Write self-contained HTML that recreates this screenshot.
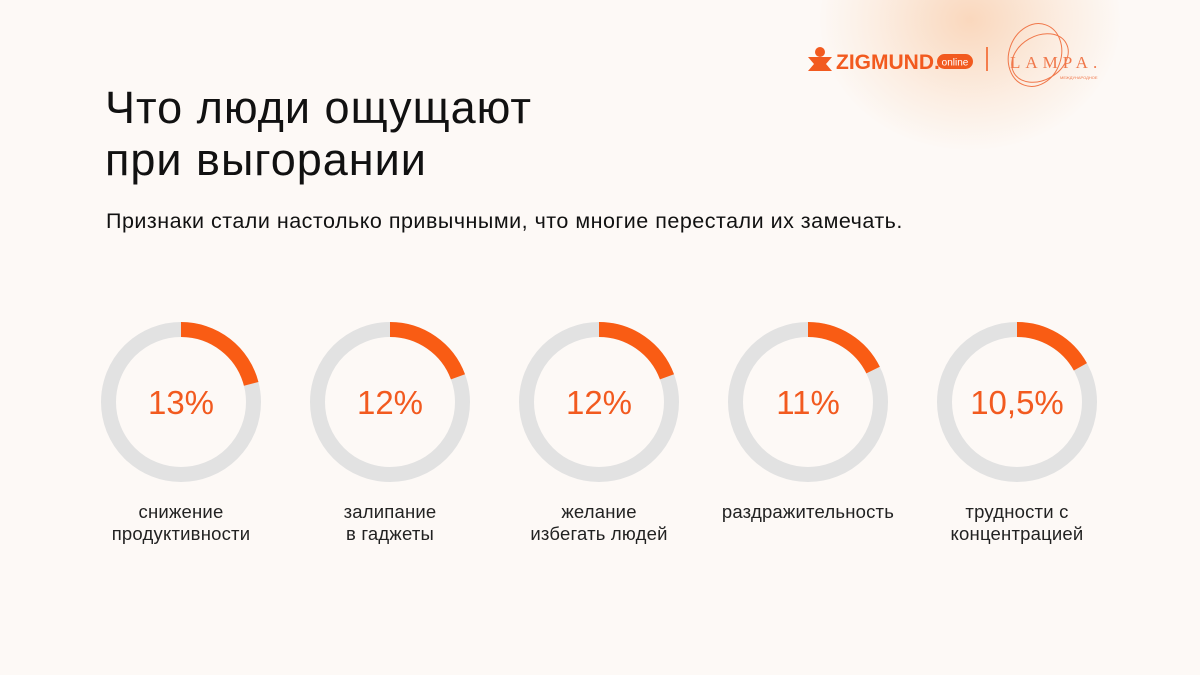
<!DOCTYPE html>
<html><head><meta charset="utf-8">
<style>
html,body{margin:0;padding:0}
body{width:1200px;height:675px;background:#fdf9f6;position:relative;overflow:hidden;font-family:"Liberation Sans","DejaVu Sans",sans-serif;color:#111}
.glow{position:absolute;left:820px;top:-110px;width:300px;height:260px;border-radius:50%;background:radial-gradient(ellipse at center,rgba(245,175,120,0.45) 0%,rgba(248,205,170,0.25) 45%,rgba(253,249,246,0) 72%)}
h1{position:absolute;left:105px;top:82px;margin:0;font-weight:400;font-size:45px;line-height:52px;letter-spacing:1px}
.sub{position:absolute;left:106px;top:209px;font-size:21.5px;letter-spacing:0.5px}
.lbl{position:absolute;width:220px;text-align:center;font-size:18.5px;line-height:22px;color:#222;letter-spacing:0.2px}
</style></head><body>
<div class="glow"></div>
<svg style="position:absolute;left:0;top:0" width="1200" height="120">
  <g>
    <circle cx="820" cy="52" r="5" fill="#f25a1f"/>
    <path d="M808 57 L832 57 L826 64 L832 71 L808 71 L814 64 Z" fill="#f25a1f"/>
    <text x="836" y="69" font-family="Liberation Sans,sans-serif" font-size="21" font-weight="700" fill="#f25a1f">ZIGMUND.</text>
    <rect x="937" y="54" width="36" height="15" rx="7.5" fill="#f25a1f"/>
    <text x="955" y="65.5" text-anchor="middle" font-family="Liberation Sans,sans-serif" font-size="10" fill="#fff">online</text>
  </g>
  <line x1="987" y1="47" x2="987" y2="71" stroke="#f25a1f" stroke-width="1.5"/>
  <g fill="none" stroke="#f0774a" stroke-width="1">
    <ellipse cx="1035" cy="55" rx="26" ry="32" transform="rotate(20 1035 55)"/>
    <ellipse cx="1040" cy="58" rx="30" ry="22" transform="rotate(-30 1040 58)"/>
    <text x="1010" y="68" font-family="Liberation Serif,serif" font-size="17" fill="#f0774a" stroke="none" letter-spacing="5">LAMPA.</text>
    <text x="1060" y="79" font-size="4" fill="#f0774a" stroke="none">МЕЖДУНАРОДНОЕ</text>
  </g>
</svg>
<h1>Что люди ощущают<br>при выгорании</h1>
<div class="sub">Признаки стали настолько привычными, что многие перестали их замечать.</div>
<svg id="chart" style="position:absolute;left:0;top:0" width="1200" height="675"></svg>
<div id="labels"></div>
<script>
const categories=["снижение<br>продуктивности","залипание<br>в гаджеты","желание<br>избегать людей","раздражительность","трудности с<br>концентрацией"];
const values=[13,12,12,11,10.5];
const valueLabels=["13%","12%","12%","11%","10,5%"];
const NS="http://www.w3.org/2000/svg";
const svg=document.getElementById('chart');
const x0=181,dx=209,cy=402,r=72.5;
const arcScale=v=>v/62;
function cx(i){return x0+i*dx;}
values.forEach((v,i)=>{
  const c=cx(i);
  const bg=document.createElementNS(NS,'circle');
  bg.setAttribute('cx',c);bg.setAttribute('cy',cy);bg.setAttribute('r',r);
  bg.setAttribute('fill','none');bg.setAttribute('stroke','#e2e2e2');bg.setAttribute('stroke-width',15);
  
  
  svg.appendChild(bg);
  const a=arcScale(v)*2*Math.PI;
  const ex=c+r*Math.sin(a),ey=cy-r*Math.cos(a);
  const p=document.createElementNS(NS,'path');
  p.setAttribute('d',`M${c} ${cy-r} A${r} ${r} 0 ${a>Math.PI?1:0} 1 ${ex} ${ey}`);
  p.setAttribute('fill','none');p.setAttribute('stroke','#f95c14');p.setAttribute('stroke-width',15);
  
  
  svg.appendChild(p);
  const t=document.createElementNS(NS,'text');
  t.setAttribute('x',c);t.setAttribute('y',cy+12);t.setAttribute('text-anchor','middle');
  t.setAttribute('font-size','33');t.setAttribute('fill','#f25a1f');t.setAttribute('font-family','Liberation Sans,sans-serif');
  t.textContent=valueLabels[i];
  
  
  svg.appendChild(t);
  const d=document.createElement('div');
  d.className='lbl';d.style.left=(c-110)+'px';d.style.top='501px';d.innerHTML=categories[i];
  
  
  document.getElementById('labels').appendChild(d);
});
</script>
</body></html>
